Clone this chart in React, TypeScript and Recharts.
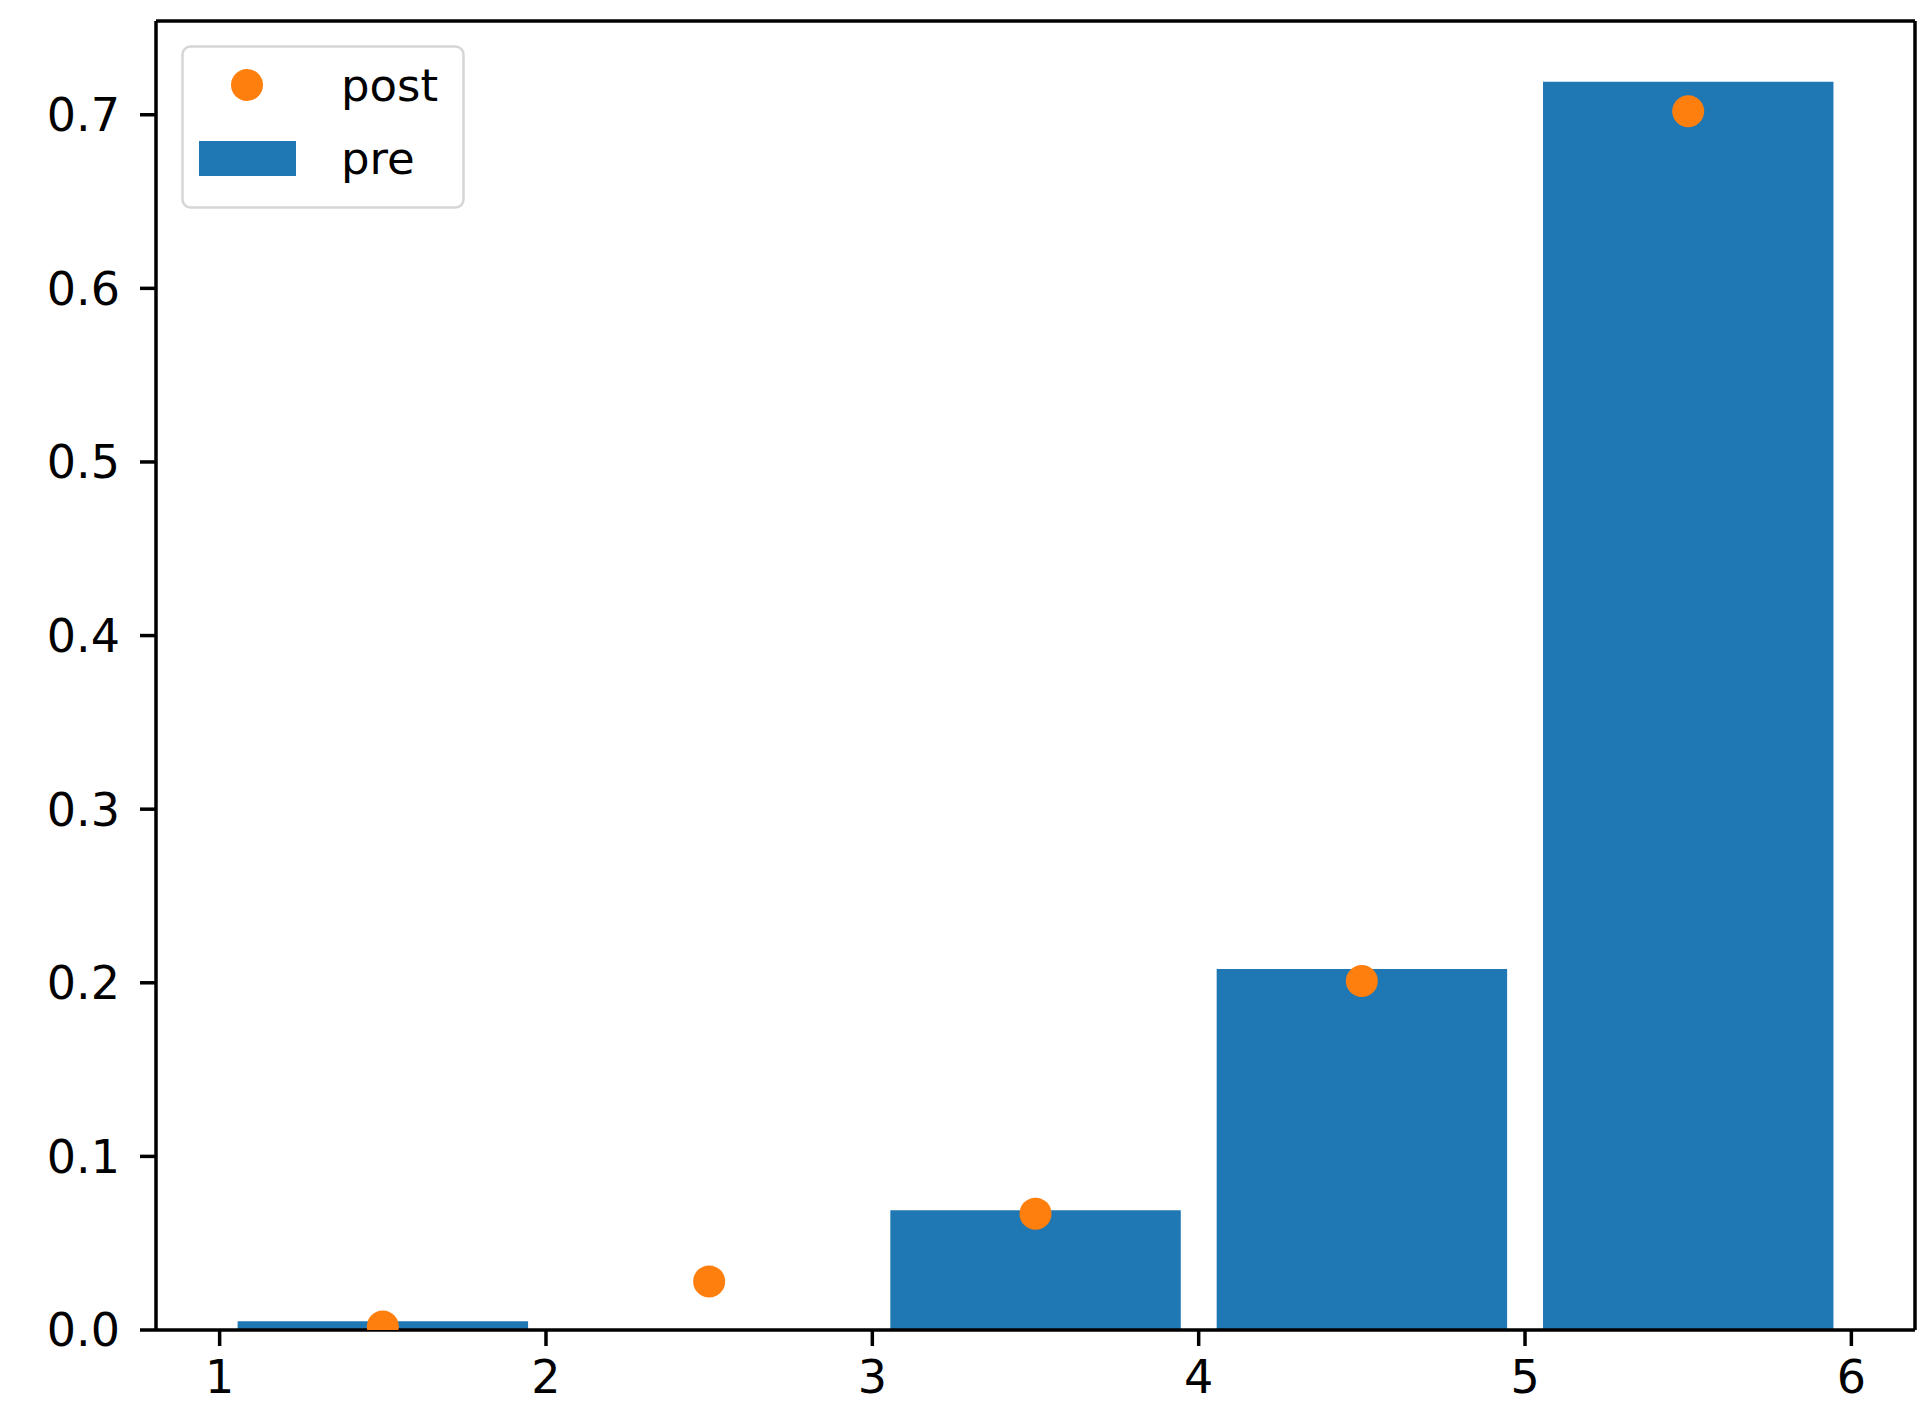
import {
  Bar,
  ComposedChart,
  Legend,
  ReferenceLine,
  Scatter,
  XAxis,
  YAxis,
} from 'recharts';

// bin centres of the histogram (bins 1..6)
const binCenters = [1.5, 2.5, 3.5, 4.5, 5.5];
const preValues = [0.005, 0, 0.069, 0.208, 0.719];
const postValues = [0.002, 0.028, 0.067, 0.201, 0.702];
const xTicks = [1, 2, 3, 4, 5, 6];
const yTicks = [0, 0.1, 0.2, 0.3, 0.4, 0.5, 0.6, 0.7];

const X_DOMAIN: [number, number] = [0.805, 6.195];
const Y_DOMAIN: [number, number] = [0, 0.754];

const W = 1926;
const H = 1410;
const MARGIN = { top: 21, right: 11, left: 0, bottom: 0 };
const Y_AXIS_W = 156;
const X_AXIS_H = 80;

const BLUE = '#1f77b4';
const ORANGE = '#ff7f0e';
const FONT = '"DejaVu Sans", sans-serif';
const DOT_R = 16;

const plotW = W - MARGIN.left - MARGIN.right - Y_AXIS_W;
const barPx = (0.89 * plotW) / (X_DOMAIN[1] - X_DOMAIN[0]);

const data = binCenters.map((x, i) => ({ x, pre: preValues[i], post: postValues[i] }));

function LegendBox({ payload }: any) {
  const items = [...(payload || [])].sort((a: any) => (a.type === 'circle' ? -1 : 1));
  return (
    <svg width={284} height={164} style={{ display: 'block', overflow: 'visible' }}>
      <rect x={1.5} y={1.5} width={281} height={161} rx={8} fill="#fff" fillOpacity={0.8} stroke="#d6d6d6" strokeWidth={2.5} />
      {items.map((it: any, i: number) => {
        const cy = 40 + i * 73;
        return (
          <g key={it.value}>
            {it.type === 'circle' ? (
              <circle cx={66} cy={cy} r={DOT_R} fill={it.color} />
            ) : (
              <rect x={18} y={cy - 17} width={97} height={35} fill={it.color} />
            )}
            <text x={160} y={cy + 16} fontFamily={FONT} fontSize={45} fill="#000">
              {it.value}
            </text>
          </g>
        );
      })}
    </svg>
  );
}

export default function App() {
  return (
    <div style={{ position: 'absolute', left: 0, top: 0, width: W, height: H, background: '#fff' }}>
      <ComposedChart width={W} height={H} data={data} margin={MARGIN}>
        <XAxis
          dataKey="x"
          type="number"
          domain={X_DOMAIN}
          ticks={xTicks}
          allowDataOverflow
          height={X_AXIS_H}
          stroke="#000"
          strokeWidth={3.5}
          tickSize={16}
          tickMargin={14}
          tick={{ fill: '#000', fontSize: 46, fontFamily: FONT }}
        />
        <YAxis
          type="number"
          domain={Y_DOMAIN}
          ticks={yTicks}
          allowDataOverflow
          width={Y_AXIS_W}
          stroke="#000"
          strokeWidth={3.5}
          tickSize={16}
          tickMargin={20}
          tickFormatter={(v: number) => v.toFixed(1)}
          tick={{ fill: '#000', fontSize: 46, fontFamily: FONT }}
        />
        <ReferenceLine y={Y_DOMAIN[1]} stroke="#000" strokeWidth={3.5} />
        <ReferenceLine x={X_DOMAIN[1]} stroke="#000" strokeWidth={3.5} />
        <Bar dataKey="pre" name="pre" fill={BLUE} barSize={barPx} legendType="rect" isAnimationActive={false} />
        <Scatter dataKey="post" name="post" fill={ORANGE} legendType="circle" isAnimationActive={false}
          shape={(p: any) => <circle cx={p.cx} cy={p.cy} r={DOT_R} fill={ORANGE} />} />
        <Legend
          content={<LegendBox />}
          wrapperStyle={{ position: 'absolute', left: 181, top: 45, width: 0, height: 0, overflow: 'visible' }}
        />
      </ComposedChart>
    </div>
  );
}
